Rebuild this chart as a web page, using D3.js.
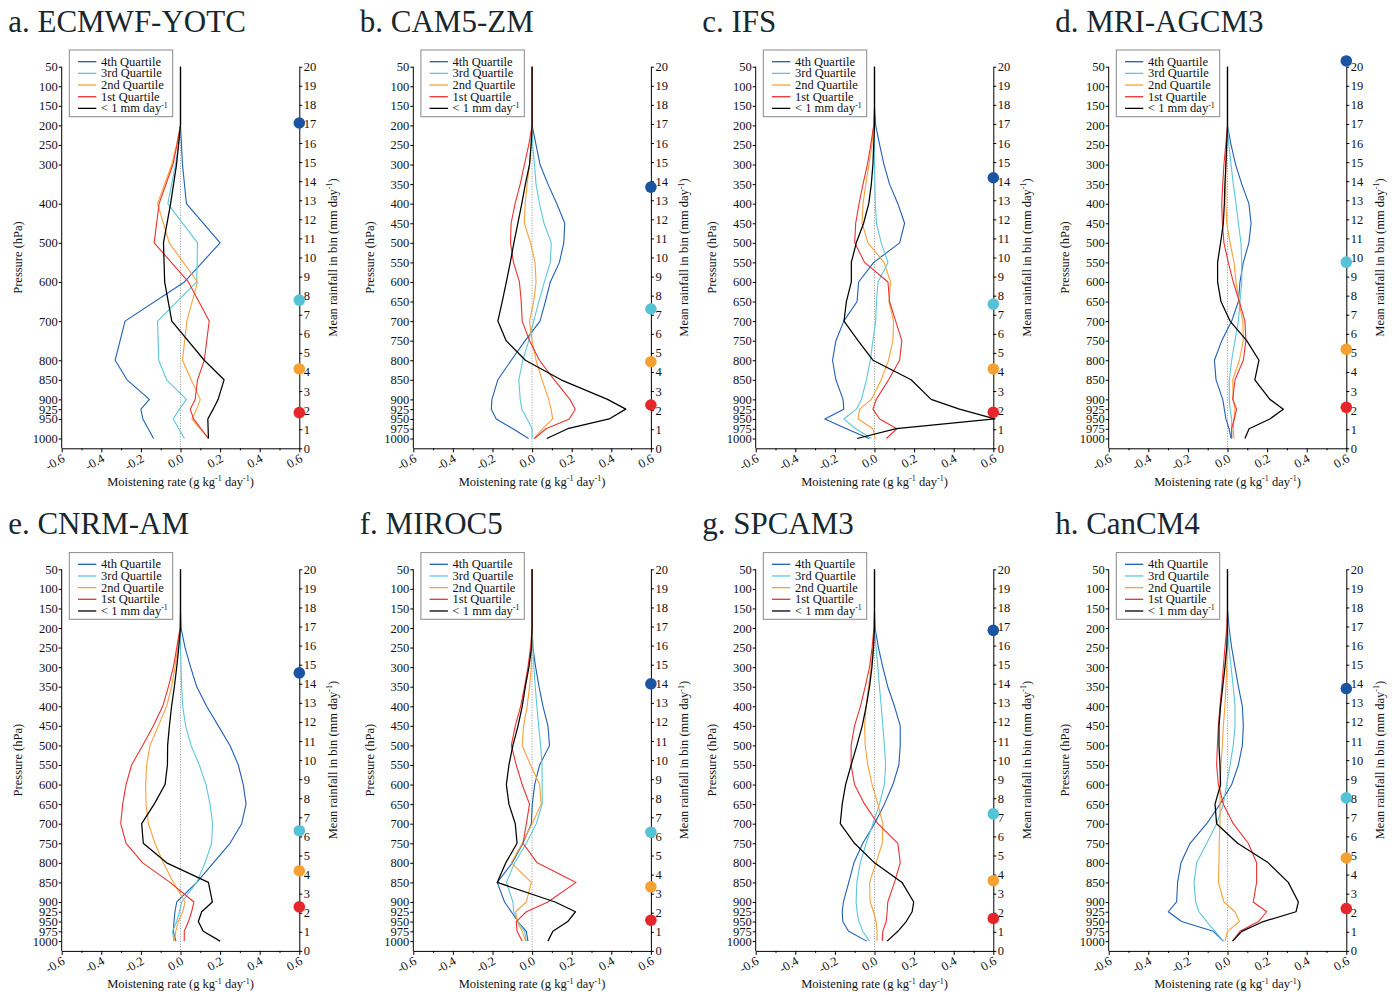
<!DOCTYPE html>
<html><head><meta charset="utf-8">
<script src="https://cdn.jsdelivr.net/npm/d3@7"></script>
<style>
body{margin:0;background:#fff}
svg{display:block}
text{font-family:"Liberation Serif","Times New Roman",serif;fill:#111}
</style>
</head><body>
<svg id="chart" width="1400" height="995"></svg>
<script>
// ---------- DATA ----------
const levelsStd = [50,100,150,200,250,300,350,400,450,500,550,600,650,700,750,800,850,900,925,950,975,1000];
const levelsYOTC = [50,100,150,200,250,300,400,500,600,700,800,850,900,925,950,1000];
const seriesNames = ["4th Quartile","3rd Quartile","2nd Quartile","1st Quartile","< 1 mm day"];
const titles = ["a. ECMWF-YOTC","b. CAM5-ZM","c. IFS","d. MRI-AGCM3","e. CNRM-AM","f. MIROC5","g. SPCAM3","h. CanCM4"];
const xTickValues = [-0.6,-0.4,-0.2,0.0,0.2,0.4,0.6];
const xTickLabels = ["-0.6","-0.4","-0.2","0.0","0.2","0.4","0.6"];
const xMinorTicks = [-0.5,-0.3,-0.1,0.1,0.3,0.5];
const rainTicks = [0,1,2,3,4,5,6,7,8,9,10,11,12,13,14,15,16,17,18,19,20];

// a. ECMWF-YOTC
const a_q4  = [0,0,0,0,0.005,0.01,0.03,0.20,0.02,-0.28,-0.33,-0.27,-0.157,-0.20,-0.19,-0.136];
const a_q3  = [0,0,0,0,-0.01,-0.025,-0.064,0.086,0.082,-0.116,-0.11,-0.07,0.03,-0.005,-0.037,0.02];
const a_q2  = [0,0,0,0,-0.02,-0.044,-0.116,-0.057,0.086,0.032,0.01,0.054,0.10,0.082,0.057,0.141];
const a_q1  = [0,0,0,0,-0.018,-0.038,-0.108,-0.133,0.04,0.145,0.12,0.086,0.074,0.049,0.066,0.141];
const a_dry = [0,0,0,0,-0.01,-0.02,-0.05,-0.086,-0.08,-0.044,0.12,0.22,0.19,0.165,0.138,0.141];
const a_rain = [17.05,7.77,4.16,1.87];

// b. CAM5-ZM
const b_q4  = [0,0,0,0,0.02,0.04,0.08,0.125,0.165,0.16,0.138,0.092,0.067,0.04,-0.035,-0.105,-0.173,-0.203,-0.206,-0.181,-0.097,-0.018];
const b_q3  = [0,0,0,0,0.003,0.012,0.02,0.037,0.06,0.097,0.092,0.062,0.034,0.008,-0.017,-0.047,-0.067,-0.06,-0.052,-0.025,0,0];
const b_q2  = [0,0,0,0,-0.005,-0.013,-0.025,-0.035,-0.039,-0.008,0.015,0.02,0.008,-0.013,0,0.02,0.05,0.084,0.096,0.104,0.054,0.008];
const b_q1  = [0,0,0,0,-0.017,-0.039,-0.06,-0.086,-0.106,-0.109,-0.094,-0.064,-0.055,-0.05,-0.013,0.037,0.112,0.191,0.218,0.188,0.07,0.012];
const b_dry = [0,0,0,0,-0.005,-0.013,-0.034,-0.052,-0.072,-0.092,-0.11,-0.13,-0.151,-0.173,-0.131,-0.034,0.146,0.381,0.473,0.389,0.18,0.074];
const b_rain = [13.69,7.30,4.54,2.27];

// c. IFS
const c_q4  = [0,0,0,0.006,0.026,0.048,0.076,0.118,0.152,0.127,-0.004,-0.08,-0.088,-0.155,-0.195,-0.212,-0.195,-0.159,-0.155,-0.251,-0.142,-0.028];
const c_q3  = [0,0,0,0,0,0,0.002,0.004,0.01,0.034,0.068,0.018,0.01,0.006,-0.008,-0.021,-0.041,-0.066,-0.091,-0.155,-0.095,-0.016];
const c_q2  = [0,0,0,-0.004,-0.013,-0.028,-0.044,-0.058,-0.063,-0.033,0.048,0.081,0.073,0.096,0.093,0.071,0.034,-0.016,-0.075,-0.083,-0.008,0.004];
const c_q1  = [0,0,0,-0.004,-0.019,-0.036,-0.058,-0.078,-0.095,-0.1,-0.05,0.068,0.076,0.107,0.138,0.127,0.071,0.009,-0.008,0.026,0.113,0.06];
const c_dry = [0,0,0,0,-0.004,-0.008,-0.016,-0.029,-0.055,-0.092,-0.117,-0.117,-0.142,-0.154,-0.083,-0.008,0.185,0.286,0.429,0.608,0.11,-0.088];
const c_rain = [14.18,7.56,4.16,1.89];

// d. MRI-AGCM3
const d_q4  = [0,0,0,0,0.018,0.041,0.072,0.108,0.119,0.108,0.08,0.063,0.055,0.021,-0.029,-0.066,-0.058,-0.024,-0.016,-0.008,0.008,0.018];
const d_q3  = [0,0,0,0,0.007,0.018,0.029,0.043,0.055,0.068,0.072,0.072,0.063,0.055,0.038,0.021,0.009,0.009,0.013,0.021,0.021,0.021];
const d_q2  = [0,0,0,0,-0.004,-0.008,-0.009,-0.008,-0.004,0.013,0.033,0.043,0.058,0.077,0.08,0.06,0.026,0.029,0.038,0.033,0.029,0.033];
const d_q1  = [0,0,0,0,-0.009,-0.018,-0.024,-0.029,-0.026,-0.018,0.004,0.029,0.06,0.088,0.093,0.08,0.038,0.026,0.046,0.034,0.021,0.021];
const d_dry = [0,0,0,0,-0.004,-0.008,-0.013,-0.016,-0.021,-0.035,-0.05,-0.05,-0.033,0.013,0.097,0.159,0.138,0.214,0.282,0.214,0.109,0.088];
const d_rain = [20.3,9.76,5.19,2.15];

// e. CNRM-AM
const e_q4  = [0,0,0,0.003,0.023,0.051,0.082,0.132,0.191,0.25,0.292,0.317,0.331,0.309,0.25,0.166,0.082,-0.019,-0.028,-0.033,-0.036,-0.023];
const e_q3  = [0,0,0,0,0,0.003,0.006,0.011,0.026,0.053,0.095,0.129,0.149,0.162,0.157,0.124,0.082,0.006,-0.006,-0.019,-0.04,-0.033];
const e_q2  = [0,0,0,-0.002,-0.014,-0.028,-0.045,-0.07,-0.112,-0.154,-0.171,-0.176,-0.174,-0.162,-0.129,-0.087,-0.036,0.023,0.011,-0.011,-0.024,-0.031];
const e_q1  = [0,0,0,-0.002,-0.019,-0.036,-0.061,-0.09,-0.137,-0.191,-0.247,-0.275,-0.292,-0.302,-0.275,-0.191,-0.053,0.068,0.056,0.04,0.019,0.019];
const e_dry = [0,0,0,0,-0.009,-0.019,-0.031,-0.045,-0.056,-0.065,-0.066,-0.078,-0.133,-0.196,-0.188,-0.07,0.141,0.161,0.107,0.09,0.115,0.2];
const e_rain = [14.57,6.3,4.2,2.31];

// f. MIROC5
const f_q4  = [0,0,0,0,0.004,0.018,0.035,0.055,0.08,0.088,0.038,0.013,0.001,-0.004,-0.046,-0.1,-0.176,-0.139,-0.105,-0.072,-0.029,-0.021];
const f_q3  = [0,0,0,0,0.004,0.009,0.016,0.024,0.033,0.043,0.05,0.051,0.051,0.021,-0.029,-0.088,-0.13,-0.097,-0.093,-0.072,-0.038,-0.029];
const f_q2  = [0,0,0,0,-0.002,-0.004,-0.013,-0.025,-0.043,-0.05,-0.008,0.038,0.046,0,-0.05,-0.105,-0.004,-0.029,-0.083,-0.076,-0.05,-0.033];
const f_q1  = [0,0,0,0,-0.008,-0.021,-0.038,-0.058,-0.085,-0.105,-0.08,-0.05,-0.013,-0.029,-0.046,0.026,0.222,0.08,-0.029,-0.08,-0.076,-0.05];
const f_dry = [0,0,0,0,-0.003,-0.016,-0.034,-0.05,-0.071,-0.097,-0.117,-0.13,-0.117,-0.085,-0.076,-0.133,-0.176,0.116,0.219,0.18,0.105,0.08];
const f_rain = [14.0,6.22,3.36,1.61];

// g. SPCAM3
const g_q4  = [0,0,0,0.003,0.02,0.042,0.067,0.101,0.13,0.13,0.123,0.093,0.05,0,-0.059,-0.104,-0.13,-0.157,-0.163,-0.16,-0.131,-0.039];
const g_q3  = [0,0,0,0,0.008,0.017,0.025,0.034,0.042,0.05,0.056,0.05,0.025,-0.008,-0.042,-0.072,-0.089,-0.093,-0.088,-0.079,-0.059,-0.025];
const g_q2  = [0,0,0,-0.003,-0.008,-0.017,-0.03,-0.042,-0.05,-0.047,-0.034,-0.012,0.017,0.042,0.039,0.008,-0.025,-0.022,-0.005,0.008,0.013,0.013];
const g_q1  = [0,0,0,-0.003,-0.012,-0.025,-0.047,-0.071,-0.101,-0.118,-0.118,-0.101,-0.05,0.017,0.118,0.13,0.101,0.067,0.064,0.059,0.042,0.039];
const g_dry = [0,0,0,0,-0.005,-0.013,-0.025,-0.042,-0.062,-0.089,-0.118,-0.146,-0.163,-0.173,-0.101,0,0.139,0.198,0.19,0.16,0.118,0.064];
const g_rain = [16.8,7.18,3.68,1.7];

// h. CanCM4
const h_q4  = [0,0,0,0.008,0.021,0.038,0.055,0.075,0.08,0.075,0.055,0.021,-0.038,-0.105,-0.189,-0.235,-0.252,-0.257,-0.299,-0.232,-0.072,-0.021];
const h_q3  = [0,0,0,0,0.007,0.018,0.029,0.038,0.038,0.029,0.013,-0.004,-0.021,-0.055,-0.105,-0.156,-0.169,-0.161,-0.144,-0.105,-0.063,-0.021];
const h_q2  = [0,0,0,0,0,-0.004,-0.008,-0.013,-0.021,-0.026,-0.033,-0.038,-0.038,-0.038,-0.042,-0.043,-0.046,-0.018,0.038,0.06,0,-0.013];
const h_q1  = [0,0,0,-0.004,-0.013,-0.021,-0.029,-0.038,-0.046,-0.051,-0.055,-0.046,-0.021,0.029,0.105,0.147,0.147,0.13,0.198,0.156,0.063,0.026];
const h_dry = [0,0,0,0,-0.004,-0.013,-0.024,-0.035,-0.043,-0.043,-0.038,-0.035,-0.063,-0.055,0.051,0.206,0.307,0.358,0.346,0.181,0.072,0.026];
const h_rain = [13.75,8.02,4.87,2.22];

// ---------- assemble ----------
const panelLevels = [levelsYOTC, levelsStd, levelsStd, levelsStd, levelsStd, levelsStd, levelsStd, levelsStd];
const panelSeries = [
  [a_q4,a_q3,a_q2,a_q1,a_dry],[b_q4,b_q3,b_q2,b_q1,b_dry],[c_q4,c_q3,c_q2,c_q1,c_dry],[d_q4,d_q3,d_q2,d_q1,d_dry],
  [e_q4,e_q3,e_q2,e_q1,e_dry],[f_q4,f_q3,f_q2,f_q1,f_dry],[g_q4,g_q3,g_q2,g_q1,g_dry],[h_q4,h_q3,h_q2,h_q1,h_dry]
];
const panelRain = [a_rain,b_rain,c_rain,d_rain,e_rain,f_rain,g_rain,h_rain];

const lineColors = ["#1f5fb4","#5cc7db","#f8a13a","#ee3030","#000000"];
const dotColors  = ["#1b54a3","#55c2d5","#f5a132","#e6262a"];

// ---------- layout ----------
const W = 237.6, H = 381.6;
const lefts = [61.7, 413.3, 755.7, 1108.7];
const tops = [66.7, 569.3];
const svg = d3.select("#chart");
const SERIF = '"Liberation Serif","Times New Roman",serif';

function supText(sel, parts){
  // parts: array of [text, isSup]; superscripts raised by 4.5px, then baseline restored
  let raised = false;
  parts.forEach(([t, s]) => {
    const ts = sel.append("tspan").text(t);
    if (s) { ts.attr("font-size", 8).attr("dy", -4.5); raised = true; }
    else if (raised) { ts.attr("dy", 4.5); raised = false; }
  });
}

titles.forEach((title, i) => {
  const left = lefts[i % 4], top = tops[Math.floor(i / 4)];
  const levels = panelLevels[i];
  const series = panelSeries[i];
  const rain = panelRain[i];
  const g = svg.append("g").attr("transform", `translate(${left},${top})`);

  const x = d3.scaleLinear().domain([-0.6, 0.6]).range([0, W]);
  const y = d3.scaleLinear().domain([50, 1025]).range([0, H]);
  const y2 = d3.scaleLinear().domain([0, 20]).range([H, 0]);

  // title
  svg.append("text").attr("x", left - 53.5).attr("y", top - 35)
    .attr("font-size", 31).style("fill", "#18272e").text(title);

  // zero dotted line
  g.append("line").attr("x1", x(0)).attr("x2", x(0)).attr("y1", y(50)).attr("y2", H)
    .attr("stroke", "#888").attr("stroke-width", 0.9).attr("stroke-dasharray", "1,1.6");

  // profiles
  const line = d3.line().x(d => x(d[0])).y(d => y(d[1]));
  series.forEach((vals, k) => {
    const pts = vals.map((v, j) => [v, levels[j]]);
    g.append("path").attr("d", line(pts)).attr("fill", "none")
      .attr("stroke", lineColors[k]).attr("stroke-width", k === 4 ? 1.25 : 1.1)
      .attr("stroke-linejoin", "round");
  });

  // left axis
  const ax = g.append("g").call(d3.axisLeft(y).tickValues(levels).tickFormat(d => String(d))
    .tickSize(3).tickSizeOuter(0).tickPadding(1));
  ax.select(".domain").attr("d", `M0,0V${H}`);
  // right axis
  const ar = g.append("g").attr("transform", `translate(${W},0)`)
    .call(d3.axisRight(y2).tickValues(rainTicks).tickFormat(d => String(d)).tickSize(3).tickSizeOuter(0).tickPadding(1.5));
  // bottom axis
  const ab = g.append("g").attr("transform", `translate(0,${H})`)
    .call(d3.axisBottom(x).tickValues(xTickValues).tickFormat((d, j) => xTickLabels[j]).tickSize(4).tickSizeOuter(0));
  ab.selectAll("text").attr("y", 0).attr("dy", 0).attr("text-anchor", "end")
    .attr("transform", "translate(3.5,12.5) rotate(-30)");
  g.append("g").attr("transform", `translate(0,${H})`)
    .call(d3.axisBottom(x).tickValues(xMinorTicks).tickSize(2).tickFormat(""))
    .select(".domain").remove();

  [ax, ar, ab].forEach(a => {
    a.attr("font-family", SERIF).attr("font-size", 12.5);
    a.selectAll("text").style("fill", "#111");
    a.selectAll("line").attr("stroke", "#000");
    a.select(".domain").attr("stroke", "#000");
  });

  // rainfall dots
  rain.forEach((r, k) => {
    g.append("circle").attr("cx", W).attr("cy", y2(r)).attr("r", 5.8).attr("fill", dotColors[k]);
  });

  // axis titles
  const tx = g.append("text").attr("x", W / 2).attr("y", H + 37.5).attr("text-anchor", "middle").attr("font-size", 12.5);
  supText(tx, [["Moistening rate (g kg", false], ["-1", true], [" day", false], ["-1", true], [")", false]]);
  g.append("text").attr("transform", `translate(-39.5,${H / 2}) rotate(-90)`).attr("text-anchor", "middle")
    .attr("font-size", 12.5).text("Pressure (hPa)");
  const tr = g.append("text").attr("transform", `translate(${W + 37.5},${H / 2}) rotate(-90)`).attr("text-anchor", "middle").attr("font-size", 12.5);
  supText(tr, [["Mean rainfall in bin (mm day", false], ["-1", true], [")", false]]);

  // legend
  const lg = g.append("g").attr("transform", "translate(7.6,-16.7)");
  lg.append("rect").attr("width", 103.4).attr("height", 66.7).attr("fill", "#fff").attr("fill-opacity", 0.85)
    .attr("stroke", "#8a8a8a").attr("stroke-width", 1);
  seriesNames.forEach((name, k) => {
    const yy = 11.7 + k * 11.67;
    lg.append("line").attr("x1", 8.7).attr("x2", 27).attr("y1", yy).attr("y2", yy)
      .attr("stroke", lineColors[k]).attr("stroke-width", 1.3);
    const t = lg.append("text").attr("x", 31.7).attr("y", yy + 4).attr("font-size", 12.5);
    if (k === 4) supText(t, [[name, false], ["-1", true]]);
    else t.text(name);
  });
});
</script>
</body></html>
